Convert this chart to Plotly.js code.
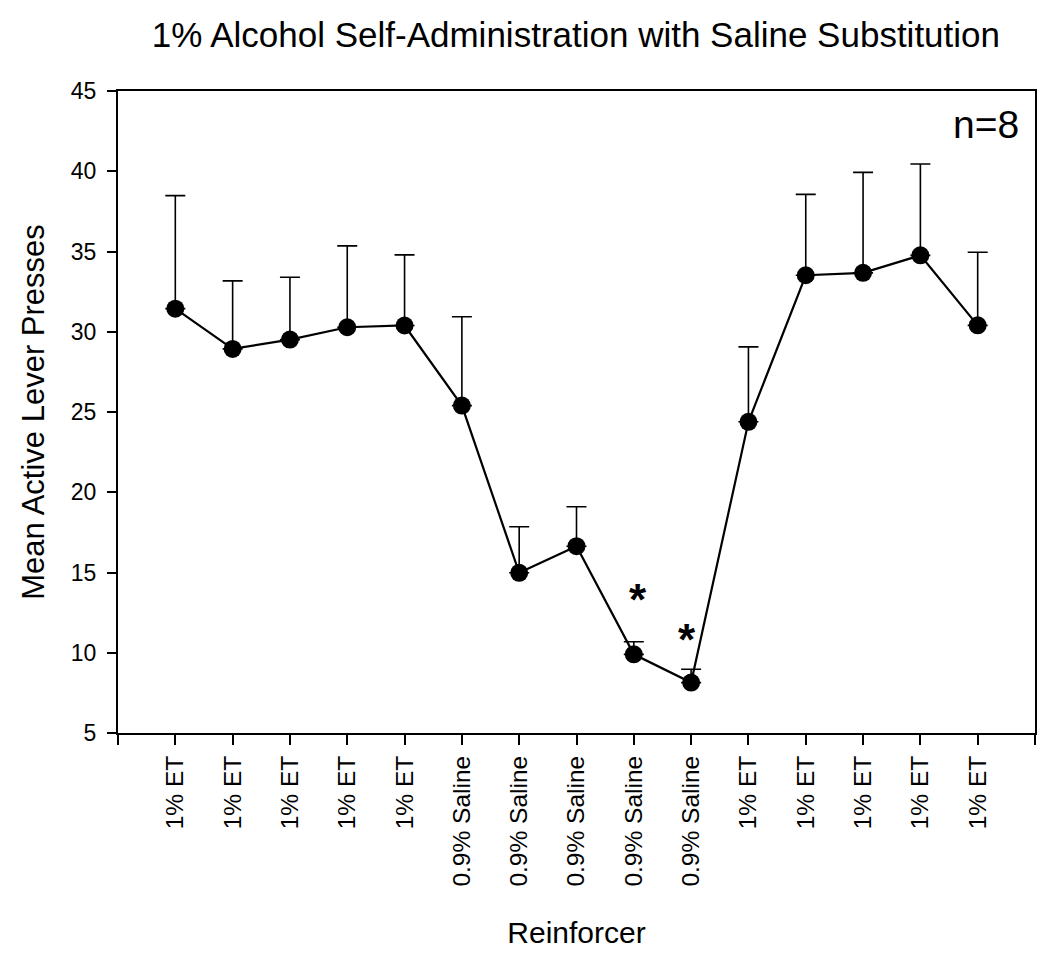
<!DOCTYPE html>
<html>
<head>
<meta charset="utf-8">
<script src="https://cdn.plot.ly/plotly-3.0.1.min.js"></script>
<style>html,body{margin:0;padding:0;background:#fff;}#chart{width:1050px;height:971px;}</style>
</head>
<body>
<div id="chart"></div>
<script>
const sessions = [1, 2, 3, 4, 5, 6, 7, 8, 9, 10, 11, 12, 13, 14, 15];
const reinforcers = ["1% ET", "1% ET", "1% ET", "1% ET", "1% ET",
  "0.9% Saline", "0.9% Saline", "0.9% Saline", "0.9% Saline", "0.9% Saline",
  "1% ET", "1% ET", "1% ET", "1% ET", "1% ET"];
const meanPresses = [31.44, 28.93, 29.51, 30.28, 30.39, 25.40, 14.98, 16.64, 9.90, 8.14, 24.39, 33.52, 33.67, 34.76, 30.40];
const semPresses = [7.04, 4.24, 3.89, 5.07, 4.40, 5.53, 2.87, 2.46, 0.79, 0.83, 4.67, 5.04, 6.26, 5.69, 4.55];
const sigX = [9.08, 9.93];
const sigY = [13.3, 10.85];
const yTicks = [5, 10, 15, 20, 25, 30, 35, 40, 45];

const FONT = "Arial, 'Liberation Sans', sans-serif";

const tickvals = [0].concat(sessions, [16]);
const ticktext = [""].concat(reinforcers, [""]);

const trace = {
  x: sessions,
  y: meanPresses,
  type: "scatter",
  mode: "lines+markers",
  line: {color: "#000", width: 2.2},
  marker: {color: "#000", size: 18},
  error_y: {type: "data", symmetric: false, array: semPresses, arrayminus: semPresses.map(() => 0),
            color: "#000", thickness: 1.6, width: 10},
  showlegend: false,
  hoverinfo: "x+y"
};

const annotations = sigX.map((x, i) => ({
  x: x, y: sigY[i], xref: "x", yref: "y", text: "<b>*</b>", showarrow: false,
  font: {family: FONT, size: 44, color: "#000"}
}));
annotations.push({
  x: 1, y: 1, xref: "paper", yref: "paper", xanchor: "right", yanchor: "top",
  xshift: -14, yshift: -10,
  text: "n=8", showarrow: false, font: {family: FONT, size: 39, color: "#000"}
});

const layout = {
  width: 1050, height: 971,
  margin: {l: 118, r: 15, t: 91, b: 238},
  paper_bgcolor: "#fff", plot_bgcolor: "#fff",
  font: {family: FONT, color: "#000"},
  title: {text: "1% Alcohol Self-Administration with Saline Substitution",
          font: {family: FONT, size: 35, color: "#000"},
          x: 0.5485, xanchor: "center", y: 0.964, yanchor: "middle"},
  xaxis: {
    range: [0, 16], tickmode: "array", tickvals: tickvals, ticktext: ticktext,
    tickangle: -90, ticks: "outside", ticklen: 10, tickwidth: 2, tickcolor: "#000",
    ticklabelstandoff: 1,
    showline: true, linecolor: "#000", linewidth: 2, mirror: true,
    showgrid: false, zeroline: false,
    tickfont: {family: FONT, size: 24.5, color: "#000"},
    title: {text: "Reinforcer", font: {family: FONT, size: 30, color: "#000"}, standoff: 36}
  },
  yaxis: {
    range: [5, 45], tickmode: "array", tickvals: yTicks,
    ticks: "outside", ticklen: 9, tickwidth: 2, tickcolor: "#000",
    ticklabelstandoff: 6,
    showline: true, linecolor: "#000", linewidth: 2, mirror: true,
    showgrid: false, zeroline: false,
    tickfont: {family: FONT, size: 23, color: "#000"},
    title: {text: "Mean Active Lever Presses", font: {family: FONT, size: 31, color: "#000"}, standoff: 17}
  },
  annotations: annotations
};

Plotly.newPlot("chart", [trace], layout, {displayModeBar: false, staticPlot: true});
</script>
</body>
</html>
